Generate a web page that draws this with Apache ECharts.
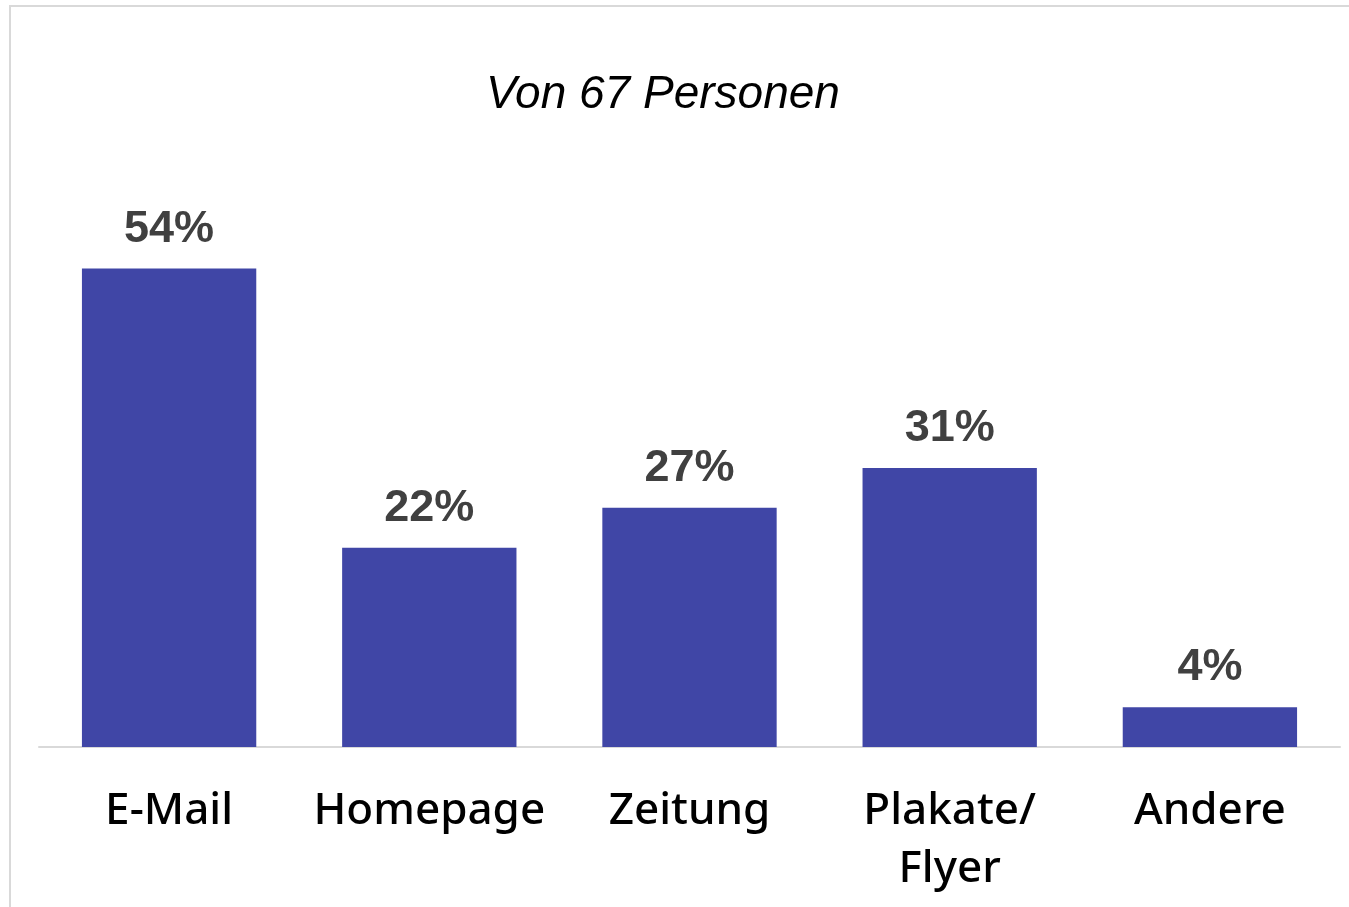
<!DOCTYPE html>
<html>
<head>
    <meta charset="utf-8">
    <title>Von 67 Personen</title>
    <script src="https://cdn.jsdelivr.net/npm/echarts@6/dist/echarts.min.js"></script>
    <style>
        html, body { margin: 0; padding: 0; background: #fff; overflow: hidden; }
        #frame { position: absolute; left: 9px; top: 5px; width: 1400px; height: 1000px;
                 border-left: 2px solid #d9d9d9; border-top: 2px solid #d9d9d9; }
        #chart { position: absolute; left: 0; top: 0; width: 1349px; height: 907px; }
    </style>
</head>
<body>
<div id="frame"></div>
<div id="chart"></div>
<script type="text/javascript">
    // Antworten von 67 Personen (Anzahl je Kanal)
    var kanaele = ['E-Mail', 'Homepage', 'Zeitung', 'Plakate/\nFlyer', 'Andere'];
    var anzahl = [36, 15, 18, 21, 3];
    var gesamt = 67;

    var myChart = echarts.init(document.getElementById('chart'));
    myChart.setOption({
        animation: false,
        title: {
            text: 'Von ' + gesamt + ' Personen',
            left: 658,
            textAlign: 'center',
            top: 67,
            textStyle: {
                fontFamily: 'Liberation Sans',
                fontStyle: 'italic',
                fontWeight: 'normal',
                fontSize: 46,
                color: '#000'
            }
        },
        grid: { left: 39, right: 9, top: 149, bottom: 160 },
        xAxis: {
            type: 'category',
            data: kanaele,
            axisLine: { lineStyle: { color: '#d9d9d9', width: 2 } },
            axisTick: { show: false },
            axisLabel: {
                interval: 0,
                margin: 35,
                fontFamily: 'Noto Sans',
                fontWeight: 500,
                fontSize: 44,
                lineHeight: 58,
                color: '#000'
            }
        },
        yAxis: {
            type: 'value',
            min: 0,
            max: 45,
            show: false,
            splitLine: { show: false }
        },
        series: [{
            type: 'bar',
            data: anzahl,
            barWidth: '67%',
            itemStyle: { color: '#4046a6' },
            label: {
                show: true,
                position: 'top',
                distance: 17,
                fontFamily: 'Liberation Sans',
                fontWeight: 'bold',
                fontSize: 45,
                color: '#404040',
                formatter: function (p) {
                    return Math.round(p.value / gesamt * 100) + '%';
                }
            }
        }]
    });
</script>
</body>
</html>
